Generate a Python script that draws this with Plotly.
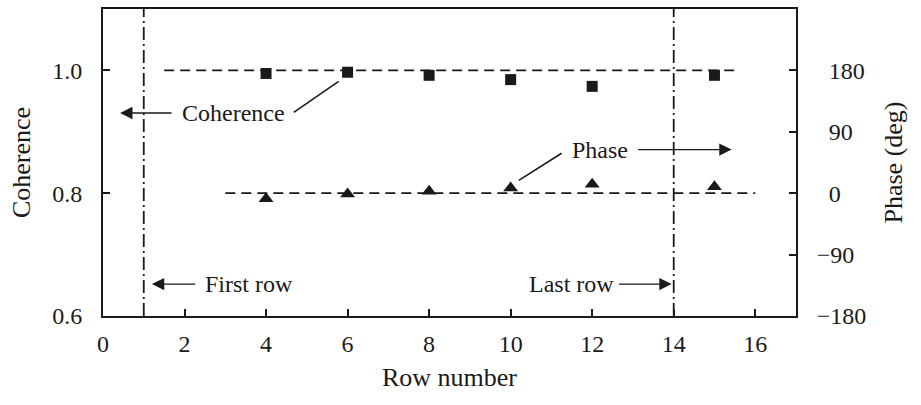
import plotly.graph_objects as go

# ---- data ----
rows = [4, 6, 8, 10, 12, 15]
coherence = [0.995, 0.997, 0.992, 0.985, 0.974, 0.992]
phase_deg = [-8, -1, 3, 7.5, 13, 9.5]

coh_ref_x = [1.5, 15.5]
coh_ref_y = [1.0, 1.0]
phase_ref_x = [3, 16]
phase_ref_y = [0, 0]

first_row = 1
last_row = 14

x_ticks = [0, 2, 4, 6, 8, 10, 12, 14, 16]
coh_ticks = [0.6, 0.8, 1.0]
coh_ticklabels = ["0.6", "0.8", "1.0"]
phase_ticks = [-180, -90, 0, 90, 180]
phase_ticklabels = ["\u2212180", "\u221290", "\u20070", "\u200790", "\u2007180"]

FONT = "Liberation Serif, Times New Roman, serif"
INK = "#1a1a1a"

fig = go.Figure()

# dashed reference lines
fig.add_trace(go.Scatter(x=coh_ref_x, y=coh_ref_y, mode="lines",
                         line=dict(color=INK, width=1.8, dash="10px,6px"),
                         hoverinfo="skip", showlegend=False))
fig.add_trace(go.Scatter(x=phase_ref_x, y=phase_ref_y, mode="lines", yaxis="y2",
                         line=dict(color=INK, width=1.8, dash="10px,6px"),
                         hoverinfo="skip", showlegend=False))

# markers
fig.add_trace(go.Scatter(x=rows, y=coherence, mode="markers", name="Coherence",
                         marker=dict(symbol="square", size=11, color=INK),
                         showlegend=False))
fig.add_trace(go.Scatter(x=rows, y=phase_deg, mode="markers", name="Phase",
                         yaxis="y2",
                         marker=dict(symbol="triangle-up", size=13, color=INK),
                         showlegend=False))

# vertical dash-dot lines
for xv in (first_row, last_row):
    fig.add_shape(type="line", xref="x", yref="paper", x0=xv, x1=xv, y0=0, y1=1,
                  line=dict(color=INK, width=1.8, dash="13px,4px,2px,4px"))

# leader lines
fig.add_shape(type="line", xref="x", yref="y", x0=4.68, y0=0.9317, x1=5.78, y1=0.982,
              line=dict(color=INK, width=1.6))
fig.add_shape(type="line", xref="x", yref="y", x0=10.2, y0=0.821, x1=11.25, y1=0.865,
              line=dict(color=INK, width=1.6))

# arrows
def arrow(x_tip, x_tail, y):
    fig.add_annotation(x=x_tip, y=y, ax=x_tail, ay=y, xref="x", yref="y",
                       axref="x", ayref="y", text="", showarrow=True,
                       arrowhead=2, arrowsize=1.9, arrowwidth=1.3, arrowcolor=INK)

arrow(0.42, 1.72, 0.9306)
arrow(15.42, 13.09, 0.871)
arrow(1.2, 2.3, 0.652)
arrow(13.95, 12.62, 0.652)

def label(x, y, t):
    fig.add_annotation(x=x, y=y, xref="x", yref="y", text=t, showarrow=False,
                       font=dict(family=FONT, size=24, color=INK))

label(3.19, 0.9306, "Coherence")
label(12.18, 0.871, "Phase")
label(3.57, 0.652, "First row")
label(11.5, 0.652, "Last row")

TITLE_FONT = dict(family=FONT, size=26, color=INK)

fig.update_layout(
    width=921, height=405,
    margin=dict(l=103, r=125, t=7, b=89),
    paper_bgcolor="white", plot_bgcolor="white",
    font=dict(family=FONT, size=24, color=INK),
    xaxis=dict(range=[0, 17], tickvals=x_ticks, ticks="inside", ticklen=7,
               tickwidth=1.5, tickcolor=INK, showline=True, linewidth=2,
               linecolor=INK, mirror=True, showgrid=False, zeroline=False,
               ticklabelstandoff=5,
               title=dict(text="Row number", standoff=12, font=TITLE_FONT)),
    yaxis=dict(range=[0.6, 1.1], tickvals=coh_ticks, ticktext=coh_ticklabels,
               ticks="inside", ticklen=7, tickwidth=1.5, tickcolor=INK,
               showline=True, linewidth=2, linecolor=INK, showgrid=False,
               zeroline=False, ticklabelstandoff=14,
               title=dict(text="Coherence", standoff=14, font=TITLE_FONT)),
    yaxis2=dict(range=[-180, 270], overlaying="y", side="right",
                tickvals=phase_ticks, ticktext=phase_ticklabels,
                ticks="inside", ticklen=7, tickwidth=1.5, tickcolor=INK,
                showline=True, linewidth=2, linecolor=INK, showgrid=False,
                zeroline=False, ticklabelstandoff=14,
                title=dict(text="Phase (deg)", standoff=18, font=TITLE_FONT)),
)

fig.write_html("out.html")
